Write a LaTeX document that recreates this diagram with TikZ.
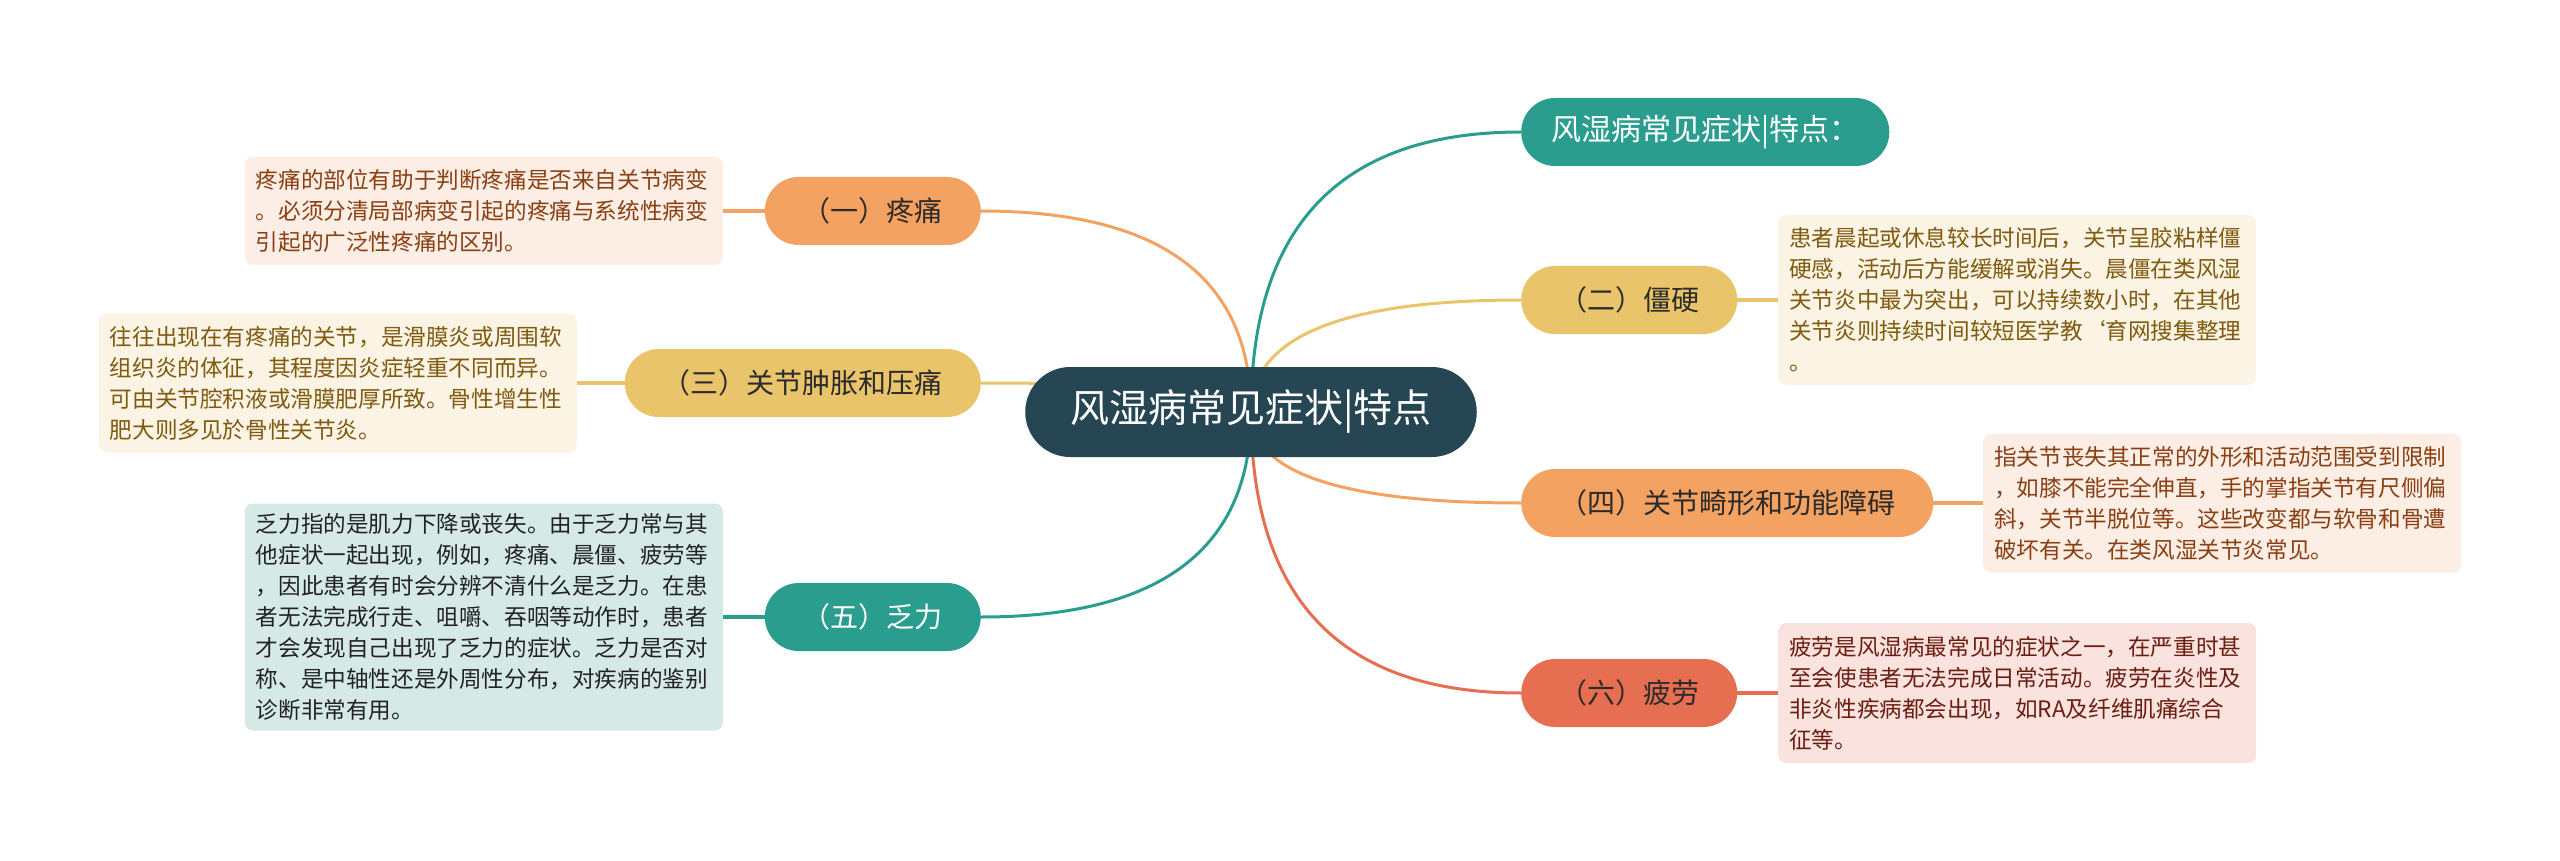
\documentclass[tikz,border=0pt]{standalone}
\usepackage{fontspec}
\setmainfont{Noto Sans CJK SC}
\usetikzlibrary{calc,backgrounds}
\definecolor{cdark}{HTML}{264653}
\definecolor{cteal}{HTML}{2A9D8F}
\definecolor{cyellow}{HTML}{E9C46A}
\definecolor{corange}{HTML}{F4A261}
\definecolor{cred}{HTML}{E76F51}
\definecolor{fpeach}{HTML}{FDEEE5}
\definecolor{fcream}{HTML}{FBF3E3}
\definecolor{fteal}{HTML}{D5EAE7}
\definecolor{fpink}{HTML}{FAE3DE}
\definecolor{tbrown}{HTML}{8A3F12}
\definecolor{tolive}{HTML}{7F5A0F}
\definecolor{tdark}{HTML}{222222}
\definecolor{tred}{HTML}{6B1D12}
\definecolor{tnode}{HTML}{2B2B2B}
\newcommand{\mmlink}[3]{\draw[mainlink,#1] (#2.center) .. controls ($(#2.center)!2/3!(#2.center |- #3)$) and ($(#3)!2/3!(#2.center |- #3)$) .. (#3);}
\begin{document}
\begin{tikzpicture}[x=1pt,y=-1pt,
  rootnode/.style={fill=cdark, text=white, rounded corners=45pt, minimum height=90pt, inner xsep=45pt, font=\fontsize{39}{44}\selectfont},
  branch/.style={rounded corners=34pt, minimum height=68pt, inner xsep=38pt, text=tnode, font=\fontsize{28}{32}\selectfont},
  titlenode/.style={fill=cteal, text=white, rounded corners=34pt, minimum height=68pt, inner xsep=30pt, font=\fontsize{30}{34}\selectfont},
  desc/.style={rounded corners=8pt, align=left, text width=456pt, inner xsep=11pt, inner ysep=6pt, font=\fontsize{22.6}{31}\selectfont},
  mainlink/.style={line width=3pt},
  boxlink/.style={line width=3.5pt}
]
\useasboundingbox (0,0) rectangle (2560,861);

\node[rootnode] (c) at (1251,412) {风湿病常见症状|特点};
\node[titlenode, anchor=west] (t) at (1521,132) {风湿病常见症状|特点：};
\node[branch, fill=corange, anchor=east] (b1) at (981,211) {（一）疼痛};
\node[branch, fill=cyellow, anchor=west] (b2) at (1521,300) {（二）僵硬};
\node[branch, fill=cyellow, anchor=east] (b3) at (981,383) {（三）关节肿胀和压痛};
\node[branch, fill=corange, anchor=west] (b4) at (1521,503) {（四）关节畸形和功能障碍};
\node[branch, fill=cteal, text=white, anchor=east] (b5) at (981,617) {（五）乏力};
\node[branch, fill=cred, anchor=west] (b6) at (1521,693) {（六）疲劳};

\node[desc, fill=fpeach, text=tbrown, anchor=east, minimum height=108pt] (d1) at (723,211) {疼痛的部位有助于判断疼痛是否来自关节病变\\。必须分清局部病变引起的疼痛与系统性病变\\引起的广泛性疼痛的区别。};
\node[desc, fill=fcream, text=tolive, anchor=west, minimum height=170pt] (d2) at (1778,300) {患者晨起或休息较长时间后，关节呈胶粘样僵\\硬感，活动后方能缓解或消失。晨僵在类风湿\\关节炎中最为突出，可以持续数小时，在其他\\关节炎则持续时间较短医学教\symbol{"60}育网搜集整理\\。};
\node[desc, fill=fcream, text=tolive, anchor=east, minimum height=139pt] (d3) at (577,383) {往往出现在有疼痛的关节，是滑膜炎或周围软\\组织炎的体征，其程度因炎症轻重不同而异。\\可由关节腔积液或滑膜肥厚所致。骨性增生性\\肥大则多见於骨性关节炎。};
\node[desc, fill=fpeach, text=tbrown, anchor=west, minimum height=139pt] (d4) at (1983,503) {指关节丧失其正常的外形和活动范围受到限制\\，如膝不能完全伸直，手的掌指关节有尺侧偏\\斜，关节半脱位等。这些改变都与软骨和骨遭\\破坏有关。在类风湿关节炎常见。};
\node[desc, fill=fteal, text=tdark, anchor=east, minimum height=227pt] (d5) at (723,617) {乏力指的是肌力下降或丧失。由于乏力常与其\\他症状一起出现，例如，疼痛、晨僵、疲劳等\\，因此患者有时会分辨不清什么是乏力。在患\\者无法完成行走、咀嚼、吞咽等动作时，患者\\才会发现自己出现了乏力的症状。乏力是否对\\称、是中轴性还是外周性分布，对疾病的鉴别\\诊断非常有用。};
\node[desc, fill=fpink, text=tred, anchor=west, minimum height=140pt] (d6) at (1778,693) {疲劳是风湿病最常见的症状之一，在严重时甚\\至会使患者无法完成日常活动。疲劳在炎性及\\非炎性疾病都会出现，如RA及纤维肌痛综合\\征等。};

\begin{scope}[on background layer]
\fill[white] (0,0) rectangle (2560,861);
\mmlink{cteal}{c}{t.west}
\mmlink{corange}{c}{b1.east}
\mmlink{cyellow}{c}{b2.west}
\mmlink{cyellow}{c}{b3.east}
\mmlink{corange}{c}{b4.west}
\mmlink{cteal}{c}{b5.east}
\mmlink{cred}{c}{b6.west}
\end{scope}

\draw[boxlink, corange] (d1.east) -- (b1.west);
\draw[boxlink, cyellow] (b2.east) -- (d2.west);
\draw[boxlink, cyellow] (d3.east) -- (b3.west);
\draw[boxlink, corange] (b4.east) -- (d4.west);
\draw[boxlink, cteal] (d5.east) -- (b5.west);
\draw[boxlink, cred] (b6.east) -- (d6.west);
\end{tikzpicture}
\end{document}
